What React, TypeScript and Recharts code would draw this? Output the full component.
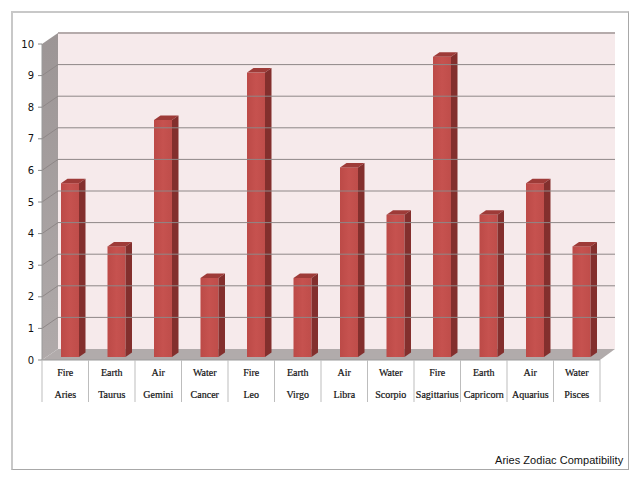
import React from "react";
import { BarChart, Bar, XAxis, YAxis, ReferenceArea, ReferenceLine } from "recharts";

const signs = ["Aries", "Taurus", "Gemini", "Cancer", "Leo", "Virgo", "Libra", "Scorpio", "Sagittarius", "Capricorn", "Aquarius", "Pisces"];
const elements = ["Fire", "Earth", "Air", "Water", "Fire", "Earth", "Air", "Water", "Fire", "Earth", "Air", "Water"];
const scores = [5.5, 3.5, 7.5, 2.5, 9, 2.5, 6, 4.5, 9.5, 4.5, 5.5, 3.5];
const yTicks = [0, 1, 2, 3, 4, 5, 6, 7, 8, 9, 10];
const title = "Aries Zodiac Compatibility";

const data = signs.map((sign, i) => ({ sign, element: elements[i], score: scores[i] }));

const DX = 16;
const DY = -11;
const BAND = 558 / 12;
const SERIF = "'Liberation Serif', serif";

function Walls(props: any) {
  const { x, y, width, height } = props;
  const r = y + height;
  const b = x + width;
  return (
    <g>
      <rect x={x + DX} y={y + DY} width={width - 1} height={height} fill="#F6EAEB" />
      <polygon
        points={`${x},${y} ${x + DX},${y + DY} ${x + DX},${r + DY} ${x},${r}`}
        fill="url(#wallGrad)"
      />
      <polygon
        points={`${x},${r} ${x + DX},${r + DY} ${b + DX - 1},${r + DY} ${b},${r}`}
        fill="#B1ABAB"
      />
      <line x1={x + DX} x2={b + DX - 1} y1={y + DY} y2={y + DY} stroke="#B5ABAB" strokeWidth={2} />
    </g>
  );
}

function GridShape(props: any) {
  const { x1, y1, x2, y2 } = props;
  return (
    <g>
      <line x1={x1} y1={y1} x2={x1 + DX} y2={y1 + DY} stroke="#8E8787" strokeWidth={1} />
      <line x1={x1 + DX} y1={y1 + DY} x2={x2 + DX - 1} y2={y2 + DY} stroke="#8E8787" strokeWidth={1} />
    </g>
  );
}

function Bar3D(props: any) {
  const { x, y, width, height } = props;
  const sx = 6.5;
  const sy = -4.5;
  const fx = x + 5;
  const fy = y - 3;
  const fb = fy + height;
  const fr = fx + width;
  return (
    <g>
      <rect x={fx} y={fy} width={width} height={height} fill="url(#barGrad)" />
      <polygon points={`${fx},${fy} ${fx + sx},${fy + sy} ${fr + sx},${fy + sy} ${fr},${fy}`} fill="#9E3B38" />
      <polygon points={`${fr},${fy} ${fr + sx},${fy + sy} ${fr + sx},${fb + sy} ${fr},${fb}`} fill="#832F2D" />
    </g>
  );
}

function XTick(props: any) {
  const { x, y, index, payload } = props;
  const i = index ?? payload.index;
  const top = y - 6;
  return (
    <g>
      <line x1={x - BAND / 2} x2={x - BAND / 2} y1={top} y2={top + 42} stroke="#BDBDBD" strokeWidth={1} />
      {i === signs.length - 1 && (
        <line x1={x + BAND / 2} x2={x + BAND / 2} y1={top} y2={top + 42} stroke="#BDBDBD" strokeWidth={1} />
      )}
      <text x={x} y={top + 16} textAnchor="middle" fontFamily={SERIF} fontSize={10} fill="#111" stroke="#111" strokeWidth={0.2}>
        {elements[i]}
      </text>
      <text x={x} y={top + 38} textAnchor="middle" fontFamily={SERIF} fontSize={10} fill="#111" stroke="#111" strokeWidth={0.2}>
        {payload.value}
      </text>
    </g>
  );
}

export default function App() {
  return (
    <div style={{ position: "absolute", left: 0, top: 0, width: 640, height: 480, background: "#fff" }}>
      <div
        style={{
          position: "absolute",
          left: 11,
          top: 11,
          width: 618,
          height: 459,
          borderTop: "2px solid #C8C8C8",
          borderLeft: "2px solid #C8C8C8",
          borderRight: "1px solid #A8A8A8",
          borderBottom: "1px solid #A8A8A8",
          boxSizing: "border-box",
        }}
      />
      <div
        style={{
          position: "absolute",
          left: 495,
          top: 453,
          fontFamily: "'Liberation Sans', Arial, sans-serif",
          fontSize: 11,
          lineHeight: "14px",
          color: "#111",
          whiteSpace: "nowrap",
          letterSpacing: 0.04,
        }}
      >
        {title}
      </div>
      <div style={{ position: "absolute", left: 0, top: 0 }}>
        <BarChart
          width={640}
          height={480}
          data={data}
          margin={{ left: 0, right: 40, top: 44, bottom: 0 }}
          barCategoryGap={0}
        >
          <defs>
            <linearGradient id="barGrad" x1="0" y1="0" x2="1" y2="0">
              <stop offset="0%" stopColor="#BC4A47" />
              <stop offset="50%" stopColor="#C6524F" />
              <stop offset="100%" stopColor="#BF4D4A" />
            </linearGradient>
            <linearGradient id="wallGrad" x1="0" y1="0" x2="0" y2="1">
              <stop offset="0%" stopColor="#9C9595" />
              <stop offset="100%" stopColor="#B0AAAA" />
            </linearGradient>
          </defs>
          <XAxis
            dataKey="sign"
            axisLine={{ stroke: "#9A9A9A" }}
            tickLine={false}
            interval={0}
            tick={<XTick />}
            height={120}
            tickMargin={0}
          />
          <YAxis
            type="number"
            domain={[0, 10]}
            ticks={yTicks}
            width={42}
            interval={0}
            axisLine={{ stroke: "#9A9A9A" }}
            tickLine={{ stroke: "#8A8A8A" }}
            tickSize={4}
            tickMargin={4}
            tick={{ fontFamily: "'DejaVu Sans', sans-serif", fontSize: 10, fill: "#111" }}
          />
          <ReferenceArea y1={0} y2={10} ifOverflow="visible" shape={<Walls />} />
          {yTicks.slice(1, -1).map((t) => (
            <ReferenceLine key={t} y={t} ifOverflow="visible" shape={<GridShape />} />
          ))}
          <Bar dataKey="score" barSize={18} isAnimationActive={false} shape={<Bar3D />} />
        </BarChart>
      </div>
    </div>
  );
}
